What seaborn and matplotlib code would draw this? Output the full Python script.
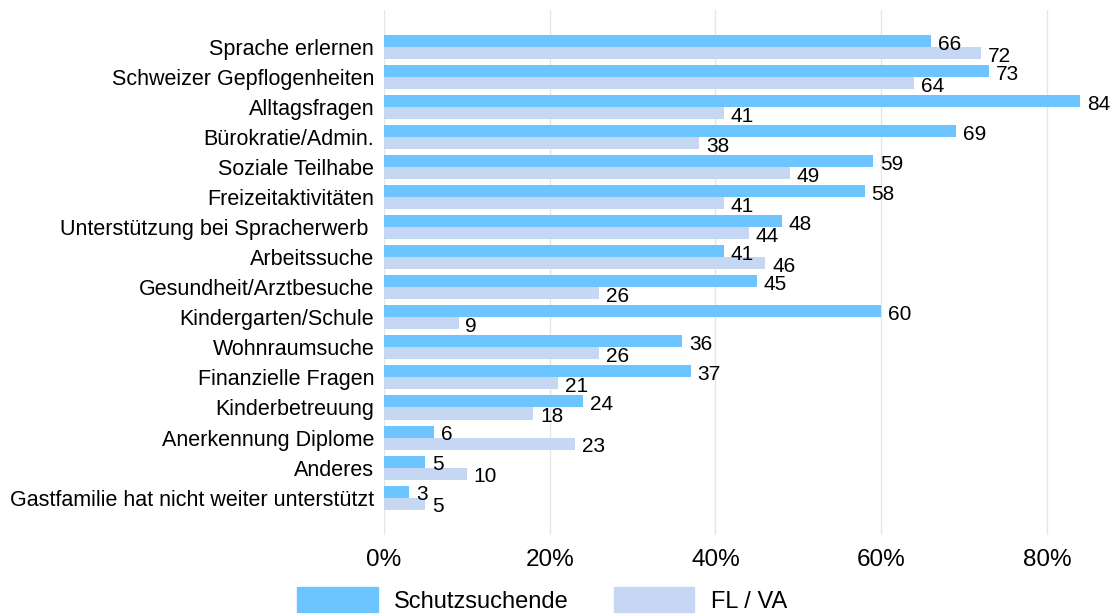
import pandas as pd
import matplotlib.pyplot as plt
import seaborn as sns

# --- Data ---
categories = [
    "Sprache erlernen", "Schweizer Gepflogenheiten", "Alltagsfragen",
    "Bürokratie/Admin.", "Soziale Teilhabe", "Freizeitaktivitäten",
    "Unterstützung bei Spracherwerb ", "Arbeitssuche", "Gesundheit/Arztbesuche",
    "Kindergarten/Schule", "Wohnraumsuche", "Finanzielle Fragen",
    "Kinderbetreuung", "Anerkennung Diplome", "Anderes",
    "Gastfamilie hat nicht weiter unterstützt",
]
schutzsuchende = [66, 73, 84, 69, 59, 58, 48, 41, 45, 60, 36, 37, 24, 6, 5, 3]
fl_va = [72, 64, 41, 38, 49, 41, 44, 46, 26, 9, 26, 21, 18, 23, 10, 5]
series = ["Schutzsuchende", "FL / VA"]
colors = ["#6CC5FF", "#C6D7F3"]
x_ticks = [0, 20, 40, 60, 80]

df = pd.DataFrame({
    "Kategorie": categories * 2,
    "Gruppe": [series[0]] * len(categories) + [series[1]] * len(categories),
    "Wert": schutzsuchende + fl_va,
})

sns.set_style("white")
plt.rcParams["font.family"] = ["Liberation Sans", "DejaVu Sans"]
plt.rcParams["text.color"] = "black"
plt.rcParams["xtick.color"] = "black"
plt.rcParams["ytick.color"] = "black"

fig = plt.figure(figsize=(11.11, 6.15), dpi=100)
ax = fig.add_axes([0.3456, 0.130, 0.634, 0.854])

sns.barplot(data=df, y="Kategorie", x="Wert", hue="Gruppe", order=categories,
            hue_order=series, palette=colors, orient="h", width=0.8,
            saturation=1, linewidth=0, ax=ax, legend=False)

# value labels next to bar ends, nudged a bit downwards like the original
for cont in ax.containers:
    for bar, val in zip(cont.patches, cont.datavalues):
        yc = bar.get_y() + bar.get_height() / 2
        ax.annotate(f"{val:.0f}", (bar.get_width(), yc), xytext=(5, -2),
                    textcoords="offset points", ha="left", va="center",
                    fontsize=15, color="black", annotation_clip=False)

ax.set_xlim(0, 85)
ax.set_ylim(16.25, -1.25)
ax.set_xticks(x_ticks)
ax.set_xticklabels([f"{v}%" for v in x_ticks], fontsize=17.5)
ax.tick_params(axis="x", length=0, pad=10)
ax.tick_params(axis="y", length=0, pad=7, labelsize=15.5)
ax.set_xlabel("")
ax.set_ylabel("")
ax.grid(axis="x", color="#E6E6E6", linewidth=1)
ax.set_axisbelow(True)
sns.despine(ax=ax, left=True, bottom=True)

handles = [plt.Rectangle((0, 0), 1, 1, color=c) for c in colors]
fig.legend(handles, series, loc="center", bbox_to_anchor=(0.488, 0.025),
           ncol=2, frameon=False, fontsize=17, handlelength=3.4,
           handleheight=1.3, handletextpad=0.7, columnspacing=1.9)

fig.savefig("out.png", dpi=100)
